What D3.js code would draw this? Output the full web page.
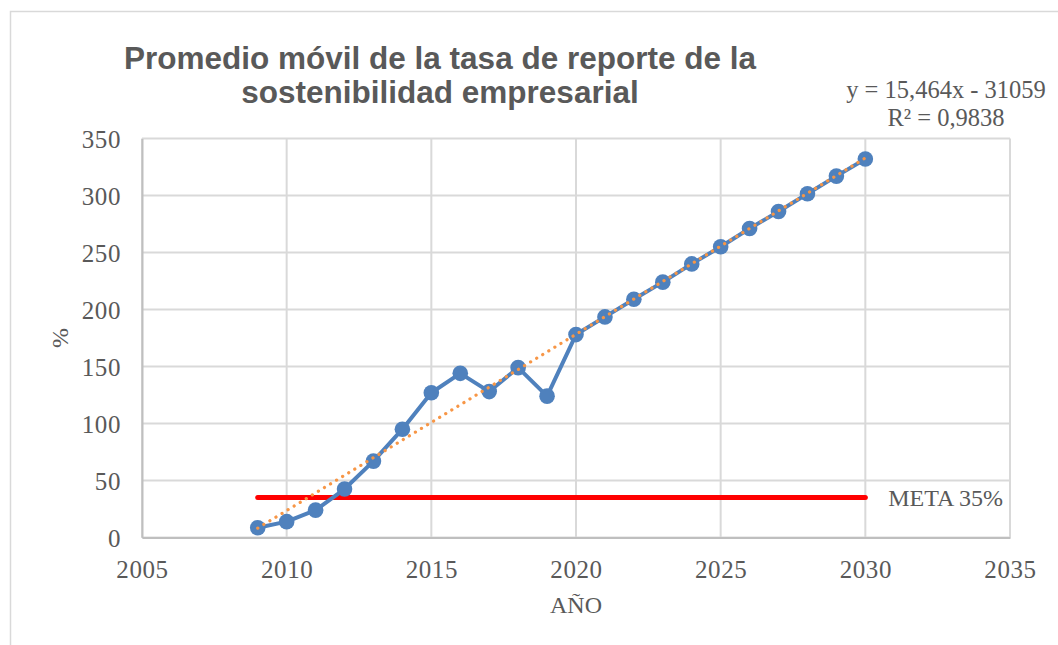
<!DOCTYPE html>
<html>
<head>
<meta charset="utf-8">
<script src="https://cdn.jsdelivr.net/npm/d3@7"></script>
<style>
  html, body { margin: 0; padding: 0; background: #fff; }
  svg { display: block; }
</style>
</head>
<body>
<svg id="chart" width="1058" height="645"></svg>
<script>
const years = [2009, 2010, 2011, 2012, 2013, 2014, 2015, 2016, 2017, 2018, 2019, 2020, 2021, 2022, 2023, 2024, 2025, 2026, 2027, 2028, 2029, 2030];
const values = [8.6, 13.9, 24, 42.5, 67, 95, 127, 144, 128, 149, 124, 178, 193.5, 209, 224, 240, 255, 271, 286, 301.5, 317, 332];
const trendSlope = 15.464;
const trendIntercept = -31059;
const trendRange = [2009, 2030];
const metaValue = 35;
const metaRange = [2009, 2030];
const xTicks = [2005, 2010, 2015, 2020, 2025, 2030, 2035];
const yTicks = [0, 50, 100, 150, 200, 250, 300, 350];
const titleLines = ["Promedio móvil de la tasa de reporte de la", "sostenibilidad empresarial"];
const eqLines = ["y = 15,464x - 31059", "R² = 0,9838"];
const metaLabel = "META 35%";
const xLabel = "AÑO";
const yLabel = "%";

const svg = d3.select("#chart");
const serif = "'Liberation Serif', 'DejaVu Serif', serif";
const textColor = "#595959";

// outer chart border
svg.append("path").attr("d", "M10.5,645 L10.5,11.5 L1058,11.5")
  .attr("fill", "none").attr("stroke", "#d9d9d9").attr("stroke-width", 1.5);

const x = d3.scaleLinear().domain([2005, 2035]).range([142, 1010]);
const y = d3.scaleLinear().domain([0, 350]).range([537.5, 138.5]);

// gridlines
const g = svg.append("g");
g.selectAll(".vg").data(xTicks).join("line")
  .attr("x1", d => x(d)).attr("x2", d => x(d))
  .attr("y1", y(0)).attr("y2", y(350))
  .attr("stroke", "#d9d9d9").attr("stroke-width", 2);
g.selectAll(".hg").data(yTicks).join("line")
  .attr("x1", x(2005)).attr("x2", x(2035))
  .attr("y1", d => y(d)).attr("y2", d => y(d))
  .attr("stroke", "#d9d9d9").attr("stroke-width", 2);

// axes
const xAxis = d3.axisBottom(x).tickValues(xTicks).tickSize(0).tickPadding(23).tickFormat(d3.format("d"));
const yAxis = d3.axisLeft(y).tickValues(yTicks).tickSize(0).tickPadding(21);
const gx = svg.append("g").attr("transform", `translate(0,${y(0)})`).call(xAxis);
const gy = svg.append("g").attr("transform", `translate(${x(2005)},0)`).call(yAxis);
[gx, gy].forEach(a => {
  a.select(".domain").attr("stroke", "#bfbfbf").attr("stroke-width", 2);
  a.selectAll("text").attr("font-family", serif).attr("font-size", 25).attr("fill", textColor)
    .attr("letter-spacing", 0.6);
});
gy.selectAll("text").attr("dy", "0.34em");

// meta line
svg.append("line")
  .attr("x1", x(metaRange[0])).attr("x2", x(metaRange[1]))
  .attr("y1", y(metaValue)).attr("y2", y(metaValue))
  .attr("stroke", "#ff0000").attr("stroke-width", 5).attr("stroke-linecap", "round");

// series line
const line = d3.line().x((d, i) => x(years[i])).y(d => y(d));
svg.append("path").datum(values).attr("d", line)
  .attr("fill", "none").attr("stroke", "#4f81bd").attr("stroke-width", 4).attr("stroke-linejoin", "round");

// markers
svg.selectAll(".pt").data(values).join("circle")
  .attr("cx", (d, i) => x(years[i])).attr("cy", d => y(d)).attr("r", 7.8)
  .attr("fill", "#4f81bd");

// trend line
const trendData = trendRange.map(t => [t, trendSlope * t + trendIntercept]);
svg.append("path").datum(trendData)
  .attr("d", d3.line().x(d => x(d[0])).y(d => y(d[1])))
  .attr("fill", "none").attr("stroke", "#f79646").attr("stroke-width", 3.2)
  .attr("stroke-linecap", "round").attr("stroke-dasharray", "0.1 7");

// meta label
svg.append("text").attr("x", 1003).attr("y", y(metaValue) + 8.5)
  .attr("text-anchor", "end").attr("font-family", serif).attr("font-size", 24)
  .attr("fill", textColor).text(metaLabel);

// title
svg.append("g").selectAll("text").data(titleLines).join("text")
  .attr("x", 440).attr("y", (d, i) => 69 + i * 34)
  .attr("text-anchor", "middle")
  .attr("font-family", "'Liberation Sans', Arial, sans-serif")
  .attr("font-weight", "bold").attr("font-size", 31.5).attr("fill", textColor)
  .text(d => d);

// equation
const eq = svg.append("g");
eq.append("text").attr("x", 946).attr("y", 98).attr("text-anchor", "middle")
  .attr("font-family", serif).attr("font-size", 24.5).attr("fill", textColor).text(eqLines[0]);
eq.append("text").attr("x", 946).attr("y", 126).attr("text-anchor", "middle")
  .attr("font-family", serif).attr("font-size", 24.5).attr("fill", textColor).text(eqLines[1]);

// axis titles
svg.append("text").attr("x", x(2020)).attr("y", 613).attr("text-anchor", "middle")
  .attr("font-family", serif).attr("font-size", 24).attr("fill", textColor).text(xLabel);
svg.append("text").attr("transform", `translate(68,${(y(0) + y(350)) / 2}) rotate(-90)`)
  .attr("text-anchor", "middle")
  .attr("font-family", serif).attr("font-size", 24).attr("fill", textColor).text(yLabel);
</script>
</body>
</html>
